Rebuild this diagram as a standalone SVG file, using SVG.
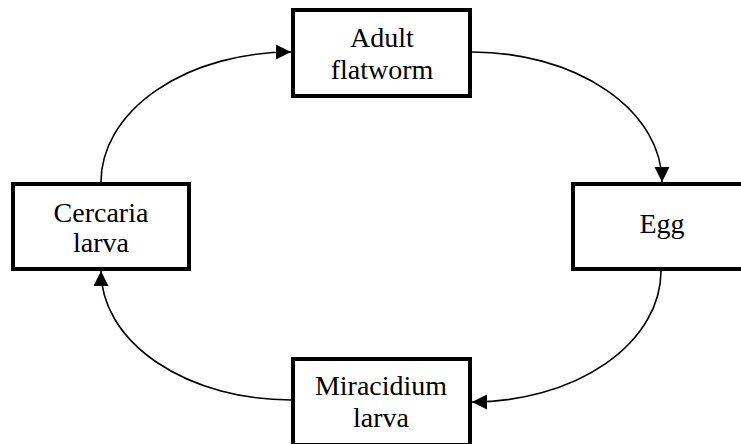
<svg xmlns="http://www.w3.org/2000/svg" width="741" height="444" viewBox="0 0 741 444">
<style>
.box{fill:#fff;stroke:#000;stroke-width:4}
.lbl{font-family:"Liberation Serif","Times New Roman",serif;font-size:28px;fill:#000;text-anchor:middle}
.con{fill:none;stroke:#000;stroke-width:1.6;marker-end:url(#ah)}
</style>
<defs>
<marker id="ah" markerUnits="userSpaceOnUse" markerWidth="16" markerHeight="16" refX="15" refY="7.5" orient="auto">
<path d="M0,0 L15,7.5 L0,15 Z" fill="#000"/>
</marker>
</defs>
<rect width="741" height="444" fill="#fff"/>
<g id="connectors">
<path class="con" d="M101,182 A190,130 0 0 1 291,52"/>
<path class="con" d="M472,52 A190,130 0 0 1 662,182"/>
<path class="con" d="M661,271 A189,131 0 0 1 472,402"/>
<path class="con" d="M291,400 A190,129 0 0 1 101,271"/>
</g>
<g id="adult">
<rect class="box" x="293" y="10" width="177" height="86"/>
<text class="lbl" x="382" y="47">Adult</text>
<text class="lbl" x="382" y="79">flatworm</text>
</g>
<g id="egg">
<rect class="box" x="573" y="184" width="177" height="85"/>
<text class="lbl" x="662" y="233">Egg</text>
</g>
<g id="miracidium">
<rect class="box" x="293" y="359" width="177" height="86"/>
<text class="lbl" x="381" y="395">Miracidium</text>
<text class="lbl" x="381" y="427">larva</text>
</g>
<g id="cercaria">
<rect class="box" x="13" y="184" width="176" height="85"/>
<text class="lbl" x="101" y="222">Cercaria</text>
<text class="lbl" x="101" y="252">larva</text>
</g>
</svg>
